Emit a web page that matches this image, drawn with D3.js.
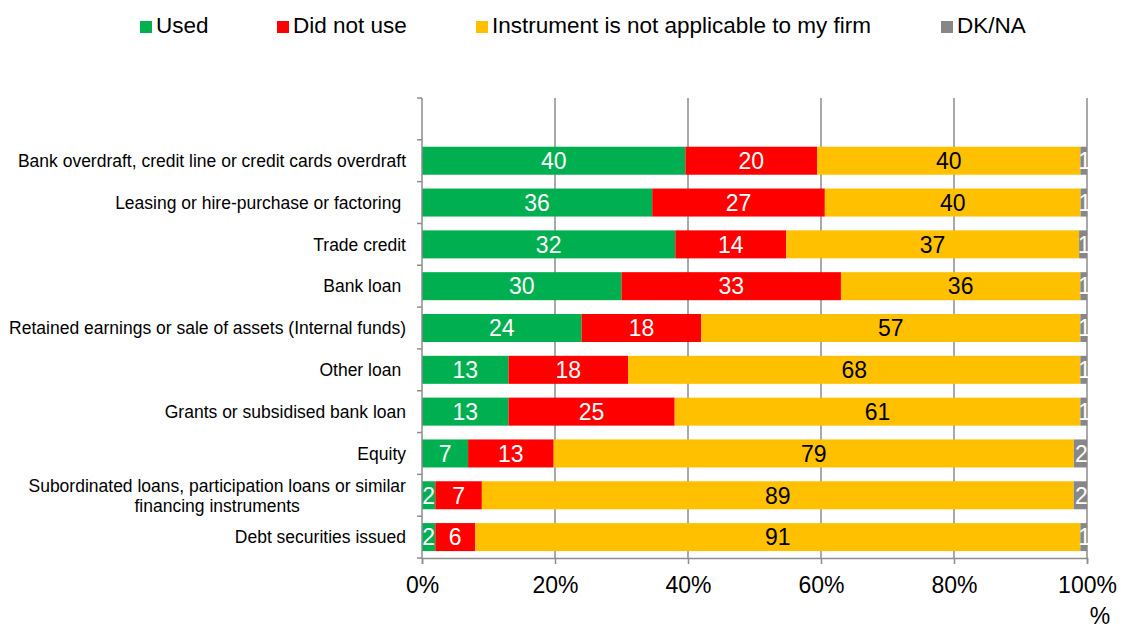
<!DOCTYPE html>
<html>
<head>
<meta charset="utf-8">
<script src="https://cdn.jsdelivr.net/npm/d3@7"></script>
<style>
  html, body { margin: 0; padding: 0; background: #fff; }
  svg text { font-family: "Liberation Sans", Arial, Helvetica, sans-serif; white-space: pre; }
</style>
</head>
<body>
<svg id="chart" width="1121" height="628"></svg>
<script>
// Financing instruments (top to bottom); an empty slot sits above the first bar
const categories = [
  "Bank overdraft, credit line or credit cards overdraft",
  "Leasing or hire-purchase or factoring ",
  "Trade credit",
  "Bank loan ",
  "Retained earnings or sale of assets (Internal funds)",
  "Other loan ",
  "Grants or subsidised bank loan",
  "Equity",
  "Subordinated loans, participation loans or similar\nfinancing instruments",
  "Debt securities issued"
];
const seriesNames = ["Used", "Did not use", "Instrument is not applicable to my firm", "DK/NA"];
const used          = [40, 36, 32, 30, 24, 13, 13, 7, 2, 2];
const didNotUse     = [20, 27, 14, 33, 18, 18, 25, 13, 7, 6];
const notApplicable = [40, 40, 37, 36, 57, 68, 61, 79, 89, 91];
const dkna          = [1, 1, 1, 1, 1, 1, 1, 2, 2, 1];
const xTicks = [0, 0.2, 0.4, 0.6, 0.8, 1];

const colors = ["#00B050", "#FF0000", "#FFC000", "#878787"];
const labelColors = ["#fff", "#fff", "#000", "#fff"];

const svg = d3.select("#chart");
const margin = { left: 422, right: 34, top: 98, bottom: 70 };
const W = 1121, H = 628;

const rows = categories.map((c, i) => ({
  cat: c, vals: [used[i], didNotUse[i], notApplicable[i], dkna[i]]
}));
const slots = ["__top"].concat(categories);

const x = d3.scaleLinear().domain([0, 1]).range([margin.left, W - margin.right]);
const y = d3.scaleBand().domain(slots).range([margin.top, H - margin.bottom]).paddingInner(0.33).paddingOuter(0.165);
const yEdge = d3.scaleBand().domain(slots).range([margin.top, H - margin.bottom]);

// Vertical gridlines
svg.append("g").selectAll("line").data(xTicks.slice(1)).join("line")
  .attr("x1", d => x(d)).attr("x2", d => x(d))
  .attr("y1", margin.top).attr("y2", H - margin.bottom)
  .attr("stroke", "#8c8c8c").attr("stroke-width", 1.5);

// Stacked, normalised bars
const stacked = d3.stack().keys([0, 1, 2, 3]).offset(d3.stackOffsetExpand)(rows.map(r => r.vals));
const layers = svg.append("g").selectAll("g").data(stacked).join("g");
layers.selectAll("rect").data((layer) => layer.map((d, i) => ({ d, i, k: layer.key }))).join("rect")
  .attr("x", o => x(o.d[0]))
  .attr("width", o => x(o.d[1]) - x(o.d[0]))
  .attr("y", o => y(categories[o.i]))
  .attr("height", y.bandwidth())
  .attr("fill", o => colors[o.k]);

// Value labels centred in each segment
layers.selectAll("text").data((layer) => layer.map((d, i) => ({ d, i, k: layer.key }))).join("text")
  .attr("x", o => (x(o.d[0]) + x(o.d[1])) / 2 + (o.k === 3 ? 1 : 0))
  .attr("y", o => y(categories[o.i]) + y.bandwidth() / 2)
  .attr("dy", "0.36em")
  .attr("text-anchor", "middle")
  .attr("font-size", 23)
  .attr("fill", o => labelColors[o.k])
  .text(o => rows[o.i].vals[o.k]);

// X axis
const xAxis = d3.axisBottom(x).tickValues(xTicks).tickFormat(d3.format(".0%")).tickSize(6).tickPadding(13);
const gx = svg.append("g").attr("transform", `translate(0,${H - margin.bottom})`).call(xAxis);
gx.select(".domain").attr("stroke", "#8c8c8c").attr("stroke-width", 1.5);
gx.selectAll(".tick line").attr("stroke", "#8c8c8c").attr("stroke-width", 1.5);
gx.selectAll(".tick text").attr("font-size", 23).attr("fill", "#000")
  .attr("font-family", "Liberation Sans, Arial, sans-serif");

// Y axis line with ticks at slot boundaries
const gy = svg.append("g");
gy.append("line").attr("x1", margin.left).attr("x2", margin.left)
  .attr("y1", margin.top).attr("y2", H - margin.bottom)
  .attr("stroke", "#8c8c8c").attr("stroke-width", 1.5);
const edges = slots.map(s => yEdge(s)).concat([H - margin.bottom]);
gy.selectAll("line.edge").data(edges).join("line").attr("class", "edge")
  .attr("x1", margin.left - 5).attr("x2", margin.left)
  .attr("y1", d => d).attr("y2", d => d)
  .attr("stroke", "#8c8c8c").attr("stroke-width", 1.5);

// Category labels
const catG = svg.append("g");
categories.forEach(c => {
  const lines = c.split("\n");
  const cy = y(c) + y.bandwidth() / 2;
  const t = catG.append("text")
    .attr("font-size", 17.5).attr("fill", "#000");
  if (lines.length === 1) {
    t.attr("x", 406).attr("y", cy).attr("dy", "0.36em").attr("text-anchor", "end").text(c);
  } else {
    // multi-line label: lines centred on the widest one
    const lh = 20;
    lines.forEach((ln, j) => {
      t.append("tspan").attr("x", 0).attr("y", cy + (j - (lines.length - 1) / 2) * lh)
        .attr("dy", "0.36em").attr("text-anchor", "middle").text(ln);
    });
    const bb = t.node().getBBox();
    t.attr("transform", `translate(${406 - bb.width / 2},0)`);
  }
});

// Axis unit
svg.append("text").attr("x", 1100).attr("y", 624)
  .attr("text-anchor", "middle").attr("font-size", 23).text("%");

// Legend
const legendX = [140, 277, 476, 941];
const lg = svg.append("g");
seriesNames.forEach((n, i) => {
  lg.append("rect").attr("x", legendX[i]).attr("y", 21).attr("width", 12).attr("height", 12).attr("fill", colors[i]);
  lg.append("text").attr("x", legendX[i] + 16).attr("y", 33)
    .attr("font-size", 22.5).attr("fill", "#000").text(n);
});
</script>
</body>
</html>
